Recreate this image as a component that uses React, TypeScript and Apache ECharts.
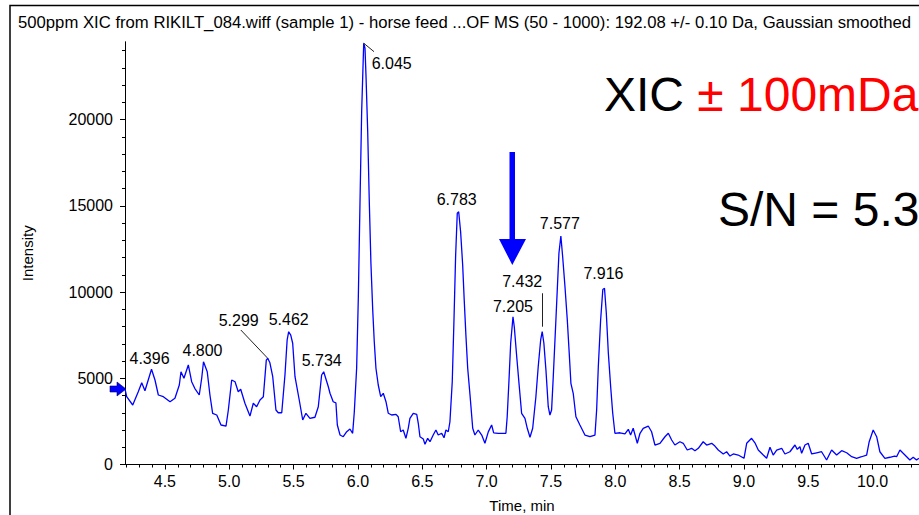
import React, { useEffect, useRef } from "react";
import * as echarts from "echarts";

// Retention time (min) and intensity of the smoothed XIC trace
const times = [
  4.19, 4.203, 4.25, 4.293, 4.32, 4.345, 4.396, 4.423, 4.449, 4.488, 4.54, 4.578, 4.612, 4.625, 4.648, 4.682,
  4.708, 4.732, 4.767, 4.786, 4.8, 4.829, 4.85, 4.871, 4.903, 4.936, 4.975, 4.993, 5.019, 5.045, 5.07, 5.089,
  5.122, 5.161, 5.187, 5.213, 5.239, 5.265, 5.288, 5.299, 5.316, 5.338, 5.363, 5.381, 5.408, 5.433, 5.45, 5.462,
  5.478, 5.493, 5.511, 5.544, 5.571, 5.596, 5.627, 5.666, 5.692, 5.718, 5.734, 5.77, 5.783, 5.808, 5.829, 5.84,
  5.861, 5.886, 5.913, 5.938, 5.959, 5.972, 5.99, 6.003, 6.016, 6.029, 6.045, 6.055, 6.063, 6.076, 6.088, 6.101,
  6.115, 6.127, 6.14, 6.158, 6.177, 6.197, 6.218, 6.236, 6.262, 6.296, 6.313, 6.332, 6.352, 6.373, 6.391, 6.404,
  6.43, 6.457, 6.469, 6.482, 6.508, 6.521, 6.542, 6.56, 6.585, 6.606, 6.624, 6.651, 6.669, 6.684, 6.702, 6.715,
  6.733, 6.746, 6.759, 6.772, 6.783, 6.798, 6.814, 6.826, 6.839, 6.853, 6.871, 6.892, 6.909, 6.935, 6.962, 6.987,
  7.013, 7.039, 7.055, 7.09, 7.119, 7.15, 7.16, 7.174, 7.187, 7.205, 7.215, 7.234, 7.254, 7.272, 7.298, 7.316,
  7.337, 7.358, 7.383, 7.401, 7.42, 7.432, 7.445, 7.461, 7.479, 7.492, 7.505, 7.518, 7.536, 7.549, 7.562, 7.577,
  7.591, 7.609, 7.627, 7.642, 7.655, 7.673, 7.694, 7.725, 7.764, 7.803, 7.842, 7.855, 7.868, 7.886, 7.903, 7.916,
  7.93, 7.946, 7.964, 7.98, 7.997, 8.036, 8.075, 8.101, 8.119, 8.139, 8.171, 8.192, 8.217, 8.256, 8.282, 8.308,
  8.347, 8.386, 8.412, 8.438, 8.463, 8.502, 8.528, 8.559, 8.593, 8.619, 8.645, 8.683, 8.71, 8.749, 8.774, 8.8,
  8.839, 8.865, 8.891, 8.917, 8.955, 9.0, 9.021, 9.059, 9.085, 9.111, 9.15, 9.176, 9.202, 9.227, 9.254, 9.293,
  9.318, 9.357, 9.396, 9.414, 9.435, 9.448, 9.474, 9.499, 9.526, 9.565, 9.603, 9.642, 9.681, 9.72, 9.759, 9.798,
  9.837, 9.875, 9.914, 9.953, 9.973, 10.004, 10.031, 10.056, 10.095, 10.134, 10.17, 10.186, 10.212, 10.237, 10.264, 10.289,
  10.315, 10.341, 10.359,
];
const intensities = [
  4380, 3930, 3450, 4220, 4740, 4280, 5520, 4900, 4030, 3930, 3640, 3840, 4610, 5380, 5000, 5770,
  4800, 4420, 4030, 5000, 5960, 5380, 4030, 2970, 2870, 2290, 2230, 3160, 4900, 4800, 4220, 4360,
  3550, 2810, 3550, 3350, 3740, 3930, 6050, 6160, 5900, 5090, 3160, 3000, 3000, 5190, 7220, 7700,
  7500, 7030, 5090, 3740, 2580, 2970, 2680, 2740, 3350, 5190, 5380, 4510, 4130, 3640, 3570, 2290,
  1710, 1610, 1900, 2060, 1810, 3060, 5580, 9640, 15150, 20460, 24430, 24140, 22490, 19300, 15340, 11670,
  8960, 7120, 5580, 4610, 3930, 4130, 3640, 2970, 2870, 2910, 2770, 1900, 2000, 1520, 2100, 2680,
  2970, 2910, 2390, 1610, 1480, 1170, 1520, 1320, 1710, 2000, 1710, 1810, 1550, 2000, 1900, 2480,
  4800, 8280, 12050, 14570, 14660, 13500, 11570, 9540, 7510, 5580, 4030, 2100, 1710, 2000, 1710, 1230,
  1890, 2290, 1830, 1810, 1810, 1810, 2770, 4900, 7030, 8570, 7990, 6250, 4510, 2970, 2680, 2100,
  1580, 2100, 3930, 5670, 7220, 7700, 7030, 5480, 3350, 2870, 3160, 5090, 7990, 10120, 12250, 13250,
  12050, 10310, 8380, 6450, 4710, 4130, 2770, 2290, 1710, 1610, 1710, 3160, 5670, 8380, 10150, 10220,
  8800, 6450, 4510, 2970, 1810, 1840, 1770, 2040, 1710, 2100, 1230, 1810, 2100, 2230, 1900, 1130,
  1230, 1610, 1810, 1420, 1130, 1320, 1230, 840, 940, 800, 940, 1320, 1130, 1230, 1070, 840,
  610, 740, 490, 610, 550, 360, 1230, 1520, 1260, 840, 550, 360, 1000, 550, 840, 940,
  610, 740, 1130, 880, 1030, 650, 1130, 1230, 610, 680, 740, 260, 840, 550, 800, 680,
  450, 360, 450, 550, 1320, 2000, 1610, 740, 360, 420, 490, 450, 840, 650, 450, 260,
  420, 260, 360,
];

// Labelled peaks (apex time, apex intensity, label text)
const peakTimes = [4.396, 4.8, 5.299, 5.462, 5.734, 6.045, 6.783, 7.205, 7.432, 7.577, 7.916];
const peakValues = [5520, 5960, 6160, 7700, 5380, 24430, 14660, 8570, 7700, 13250, 10220];
const peakLabels = ["4.396", "4.800", "5.299", "5.462", "5.734", "6.045", "6.783", "7.205", "7.432", "7.577", "7.916"];

// Axis tick labels
const xTickLabels = [4.5, 5.0, 5.5, 6.0, 6.5, 7.0, 7.5, 8.0, 8.5, 9.0, 9.5, 10.0];
const yTickLabels = [0, 5000, 10000, 15000, 20000];

const titleText =
  "500ppm XIC from RIKILT_084.wiff (sample 1) - horse feed ...OF MS (50 - 1000): 192.08 +/- 0.10 Da, Gaussian smoothed";

export default function App() {
  const ref = useRef<HTMLDivElement>(null);

  useEffect(() => {
    if (!ref.current) return;
    const chart = echarts.init(ref.current, undefined, { renderer: "svg" });

    const xMin = 4.19;
    const xMax = 10.36;
    const yMax = 24500;

    const xMinor: number[] = [];
    for (let i = 42; i <= 103; i++) xMinor.push(i / 10);
    const yMinor: number[] = [];
    for (let i = 0; i <= 24; i++) yMinor.push(i * 1000);

    const font = "Arial, 'Liberation Sans', sans-serif";

    // label offsets relative to apex (px)
    const labelOffsets: [number, number][] = [
      [-2, -11], [-1, -11], [-29, -38], [0, -12], [-2, -11], [28, 20],
      [-2, -12], [0, -10], [-20, -50], [-1, -13], [-1, -15],
    ];

    const data = times.map((t, i) => [t, intensities[i]]);
    const gridBox = {
      left: 125,
      top: 42,
      right: 0,
      bottom: 50.5,
      containLabel: false,
      outerBoundsMode: "none",
    };

    const option: any = {
      animation: false,
      backgroundColor: "#ffffff",
      title: {
        text: titleText,
        left: 13,
        top: 9,
        textStyle: { fontFamily: font, fontSize: 16.7, fontWeight: "normal", color: "#000" },
      },
      grid: [{ ...gridBox }, { ...gridBox }],
      xAxis: [
        {
          type: "value",
          gridIndex: 0,
          min: xMin,
          max: xMax,
          name: "Time, min",
          nameLocation: "middle",
          nameGap: 33,
          nameTextStyle: { fontFamily: font, fontSize: 15, color: "#000" },
          axisLine: { show: true, onZero: false, lineStyle: { color: "#000", width: 1 } },
          axisTick: { show: true, length: 5, customValues: xTickLabels, lineStyle: { color: "#000" } },
          axisLabel: {
            customValues: xTickLabels,
            formatter: (v: number) => v.toFixed(1),
            fontFamily: font,
            fontSize: 16,
            color: "#000",
            margin: 9,
          },
          splitLine: { show: false },
        },
        {
          type: "value",
          gridIndex: 1,
          min: xMin,
          max: xMax,
          position: "bottom",
          axisLine: { show: true, onZero: false, lineStyle: { color: "#000", width: 1 } },
          axisTick: { show: true, length: 3, customValues: xMinor, lineStyle: { color: "#000" } },
          axisLabel: { show: false },
          splitLine: { show: false },
        },
      ],
      yAxis: [
        {
          type: "value",
          gridIndex: 0,
          min: 0,
          max: yMax,
          name: "Intensity",
          nameLocation: "middle",
          nameGap: 90,
          nameRotate: 90,
          nameTextStyle: { fontFamily: font, fontSize: 15, color: "#000" },
          axisLine: { show: true, onZero: false, lineStyle: { color: "#000", width: 1 } },
          axisTick: { show: true, length: 5, customValues: yTickLabels, lineStyle: { color: "#000" } },
          axisLabel: {
            customValues: yTickLabels,
            formatter: (v: number) => String(v),
            fontFamily: font,
            fontSize: 16,
            color: "#000",
            margin: 12,
          },
          splitLine: { show: false },
        },
        {
          type: "value",
          gridIndex: 1,
          min: 0,
          max: yMax,
          position: "left",
          axisLine: { show: true, onZero: false, lineStyle: { color: "#000", width: 1 } },
          axisTick: { show: true, length: 3, customValues: yMinor, lineStyle: { color: "#000" } },
          axisLabel: { show: false },
          splitLine: { show: false },
        },
      ],
      series: [
        {
          type: "line",
          data,
          xAxisIndex: 0,
          yAxisIndex: 0,
          showSymbol: false,
          symbol: "none",
          lineStyle: { color: "#0000ff", width: 1.3 },
          silent: true,
          clip: true,
          markPoint: {
            symbol: "circle",
            symbolSize: 0,
            silent: true,
            data: peakTimes.map((t, i) => ({
              coord: [t, peakValues[i]],
              label: {
                show: true,
                position: "inside",
                formatter: peakLabels[i],
                offset: labelOffsets[i],
                fontFamily: font,
                fontSize: 16,
                color: "#000",
              },
            })),
          },
          markLine: {
            symbol: ["none", "none"],
            silent: true,
            label: { show: false },
            lineStyle: { color: "#222", width: 1, type: "solid" },
            data: [
              [{ coord: [peakTimes[2], peakValues[2]] }, { coord: [5.09, 7800] }],
              [{ coord: [peakTimes[5], peakValues[5]] }, { coord: [6.125, 23940] }],
              [{ coord: [peakTimes[8], 9930] }, { coord: [peakTimes[8], 7990] }],
            ],
          },
        },
        {
          type: "line",
          data: [],
          xAxisIndex: 1,
          yAxisIndex: 1,
          silent: true,
        },
      ],
      graphic: [
        {
          type: "polyline",
          shape: { points: [[10, 515], [10, 5.5], [919, 5.5]] },
          style: { stroke: "#000", lineWidth: 1.5, fill: null },
          silent: true,
        },
        {
          type: "polygon",
          shape: {
            points: [[509.5, 152], [515, 152], [515, 239], [526, 239], [512.3, 265], [499, 239], [509.5, 239]],
          },
          style: { fill: "#0000ff" },
          silent: true,
        },
        {
          type: "polygon",
          shape: {
            points: [[110, 386], [117, 386], [117, 382], [126, 389], [117, 396], [117, 392], [110, 392]],
          },
          style: { fill: "#0000ff", stroke: "#000060", lineWidth: 0.6 },
          silent: true,
        },
        {
          type: "text",
          x: 604,
          y: 94,
          style: {
            text: "{a|XIC }{b|± 100mDa}",
            verticalAlign: "middle",
            rich: {
              a: { fontFamily: font, fontSize: 48, fill: "#000" },
              b: { fontFamily: font, fontSize: 48, fill: "#ff0000" },
            },
          },
          silent: true,
        },
        {
          type: "text",
          x: 718,
          y: 209,
          style: {
            text: "S/N = 5.3",
            fontFamily: font,
            fontSize: 48,
            fill: "#000",
            verticalAlign: "middle",
          },
          silent: true,
        },
      ],
    };

    chart.setOption(option);
    return () => chart.dispose();
  }, []);

  return (
    <div
      ref={ref}
      style={{ position: "fixed", left: 0, top: 0, width: 919, height: 515, background: "#fff" }}
    />
  );
}
